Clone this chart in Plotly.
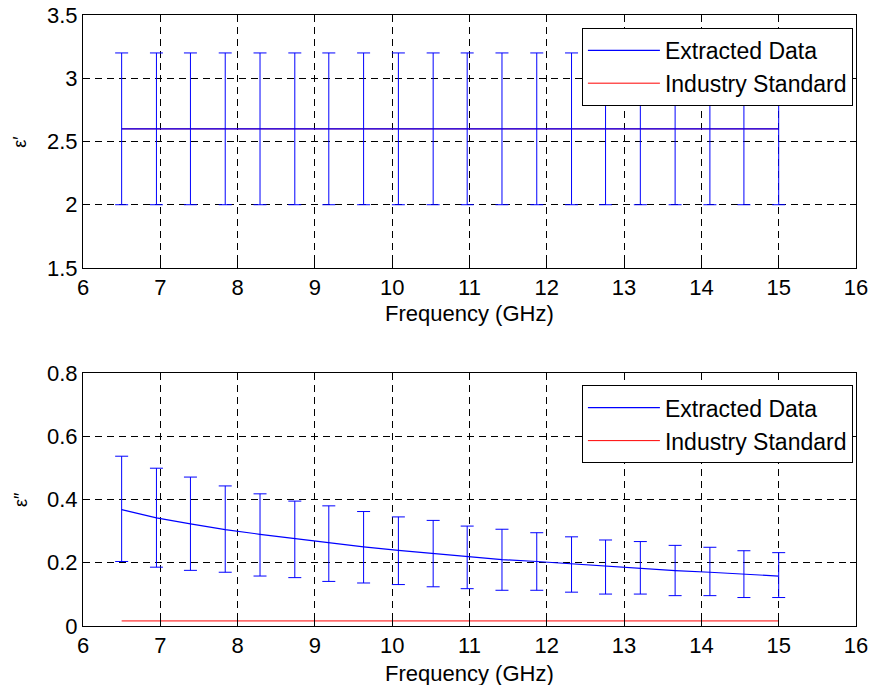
import plotly.graph_objects as go

# czestotliwosci pomiarowe [GHz]
freq = [6.5, 6.95, 7.39, 7.84, 8.29, 8.74, 9.18, 9.63, 10.08, 10.53,
        10.97, 11.42, 11.87, 12.32, 12.76, 13.21, 13.66, 14.11, 14.55, 15.0]

# eps' - wartosc srodkowa i granice przedzialu
eps1 = [2.6] * 20
eps1_gora = [3.2] * 20
eps1_dol = [2.0] * 20
eps1_norma = [2.6] * 20

# eps'' - wartosc srodkowa i granice przedzialu
eps2 = [0.368, 0.342, 0.323, 0.305, 0.290, 0.276, 0.262, 0.250, 0.239, 0.229,
        0.219, 0.210, 0.204, 0.197, 0.188, 0.181, 0.175, 0.170, 0.163, 0.158]
eps2_gora = [0.537, 0.499, 0.471, 0.443, 0.418, 0.395, 0.380, 0.362, 0.345, 0.334,
             0.316, 0.306, 0.295, 0.282, 0.272, 0.267, 0.255, 0.249, 0.238, 0.232]
eps2_dol = [0.204, 0.186, 0.176, 0.170, 0.158, 0.153, 0.141, 0.136, 0.131, 0.124,
            0.118, 0.113, 0.113, 0.107, 0.101, 0.101, 0.096, 0.096, 0.090, 0.090]
eps2_norma = [0.016] * 20

NIEBIESKI = "#0000FF"
CZERWONY = "#FF0000"
FONT = "Liberation Sans, Arial, sans-serif"


def dodaj_panel(fig, srodek, gora, dol, norma, xa, ya, legenda):
    # czerwona linia pod spodem, niebieska z errorbarami na wierzchu
    fig.add_trace(go.Scatter(
        x=freq, y=norma, mode="lines", name="Industry Standard",
        line=dict(color=CZERWONY, width=1), xaxis=xa, yaxis=ya,
        legend=legenda, legendrank=2,
    ))
    fig.add_trace(go.Scatter(
        x=freq, y=srodek, mode="lines", name="Extracted Data",
        line=dict(color=NIEBIESKI, width=1.2), xaxis=xa, yaxis=ya,
        legend=legenda, legendrank=1,
        error_y=dict(
            type="data", symmetric=False,
            array=[g - s for g, s in zip(gora, srodek)],
            arrayminus=[s - d for s, d in zip(srodek, dol)],
            color=NIEBIESKI, thickness=1, width=6.5,
        ),
    ))


fig = go.Figure()
dodaj_panel(fig, eps1, eps1_gora, eps1_dol, eps1_norma, "x", "y", "legend")
dodaj_panel(fig, eps2, eps2_gora, eps2_dol, eps2_norma, "x2", "y2", "legend2")

os_wspolna = dict(
    showline=True, linecolor="black", linewidth=1, mirror="ticks",
    ticks="inside", ticklen=6, tickcolor="black", automargin=False,
    showgrid=True, gridcolor="black", gridwidth=1, griddash="7px,5px",
    zeroline=False, ticklabeloverflow="allow",
    tickfont=dict(family=FONT, size=22, color="black"),
)
legenda_styl = dict(
    xanchor="right", yanchor="top", x=0.996,
    bgcolor="white", bordercolor="black", borderwidth=1,
    font=dict(family=FONT, size=23, color="black"),
    traceorder="normal", itemwidth=72, tracegroupgap=0,
)

# strona ma 8px marginesu w body, wiec figura jest o 16px mniejsza
fig.update_layout(
    width=864, height=677,
    margin=dict(l=75, r=16, t=7, b=59, autoexpand=False),
    paper_bgcolor="white", plot_bgcolor="white",
    showlegend=True,
    xaxis=dict(os_wspolna, domain=[0, 1], range=[6, 16], dtick=1, anchor="y"),
    yaxis=dict(os_wspolna, domain=[0.586, 1], range=[1.5, 3.5], dtick=0.5,
               anchor="x", tickformat=".1~f"),
    xaxis2=dict(os_wspolna, domain=[0, 1], range=[6, 16], dtick=1, anchor="y2"),
    yaxis2=dict(os_wspolna, domain=[0, 0.414], range=[0, 0.8], dtick=0.2,
                anchor="x2", tickformat=".1~f"),
    legend=dict(legenda_styl, y=0.979),
    legend2=dict(legenda_styl, y=0.394),
)

# podpisy osi jako adnotacje - latwiej ustawic je tak blisko jak w matlabie
podpis = dict(xref="paper", yref="paper", showarrow=False,
              font=dict(family=FONT, size=22, color="black"))
fig.add_annotation(podpis, text="Frequency (GHz)", x=0.5, y=0.512, yanchor="middle")
fig.add_annotation(podpis, text="Frequency (GHz)", x=0.5, y=-0.077, yanchor="middle")
fig.add_annotation(podpis, text="ε′", x=-0.081, y=0.793, textangle=-90,
                   xanchor="center", yanchor="middle", font_size=18)
fig.add_annotation(podpis, text="ε″", x=-0.081, y=0.207, textangle=-90,
                   xanchor="center", yanchor="middle", font_size=18)

fig.write_html("out.html")
